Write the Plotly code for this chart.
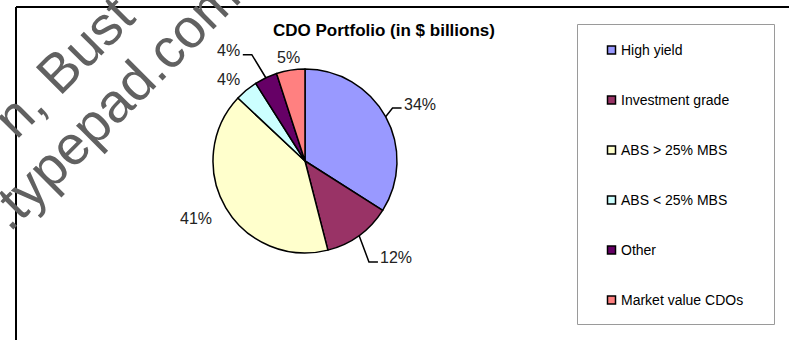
import math
import plotly.graph_objects as go

# ---- data ----
categories = ["High yield", "Investment grade", "ABS > 25% MBS",
              "ABS < 25% MBS", "Other", "Market value CDOs"]
shares = [34, 12, 41, 4, 4, 5]          # percent of portfolio
pct_labels = ["34%", "12%", "41%", "4%", "4%", "5%"]

# ---- style / layout ----
colors = ["#9999FF", "#993366", "#FFFFCC", "#CCFFFF", "#660066", "#FF8080"]
W, H = 789, 340
CX, CY, R = 305, 161, 92                 # pie centre / radius in pixels
FONT = "Liberation Sans, Arial, sans-serif"
# label placement (pixel distance from centre, angular tweak in degrees)
label_dist = [128, 133, 123, 112, 134, 105]
label_turn = [2.4, -7.2, 2.6, -3.4, -9.4, -0.3]
label_leader = [True, True, False, False, True, False]


def px(x):
    return x / W


def py(y):
    return 1 - y / H


fig = go.Figure()
fig.add_trace(go.Pie(
    values=shares, labels=categories, sort=False, direction="clockwise",
    rotation=0, textinfo="none", hoverinfo="skip", showlegend=False,
    marker=dict(colors=colors, line=dict(color="black", width=1.5)),
    domain=dict(x=[px(CX - R), px(CX + R)], y=[py(CY + R), py(CY - R)]),
))

shapes = []
annotations = []

# outer chart frame (cut off at right / bottom)
shapes.append(dict(type="line", xref="paper", yref="paper",
                   x0=px(16), x1=1.05, y0=py(7), y1=py(7),
                   line=dict(color="black", width=2)))
shapes.append(dict(type="line", xref="paper", yref="paper",
                   x0=px(16), x1=px(16), y0=py(7), y1=-0.05,
                   line=dict(color="black", width=2)))

# percentage labels and leader lines
total = sum(shares)
cum = 0
for i, v in enumerate(shares):
    mid = (cum + v / 2) / total * 360
    cum += v
    th = math.radians(mid + label_turn[i])
    lx = CX + label_dist[i] * math.sin(th)
    ly = CY - label_dist[i] * math.cos(th)
    annotations.append(dict(x=px(lx), y=py(ly), xref="paper", yref="paper",
                            text=pct_labels[i], showarrow=False,
                            xanchor="center", yanchor="middle",
                            font=dict(family=FONT, size=16, color="#222222")))
    if label_leader[i]:
        tm = math.radians(mid)
        sx = CX + R * math.sin(tm)
        sy = CY - R * math.cos(tm)
        half = 4.2 * len(pct_labels[i]) + 3.5
        side = 1 if lx > CX else -1
        ex = lx - side * (half + 2)
        ey = ly + 4
        bx = ex - side * 9
        path = f"M {px(sx)} {py(sy)} L {px(bx)} {py(ey)} L {px(ex)} {py(ey)}"
        shapes.append(dict(type="path", xref="paper", yref="paper", path=path,
                           line=dict(color="black", width=1.5)))

# title
annotations.append(dict(x=px(383.5), y=py(30), xref="paper", yref="paper",
                        text="<b>CDO Portfolio (in $ billions)</b>", showarrow=False,
                        xanchor="center", yanchor="middle",
                        font=dict(family=FONT, size=17, color="black")))

# legend box
shapes.append(dict(type="rect", xref="paper", yref="paper",
                   x0=px(577.5), x1=px(774.5), y0=py(324.5), y1=py(24.5),
                   line=dict(color="#9a9a9a", width=1), fillcolor="white", layer="below"))
for i, name in enumerate(categories):
    yc = 50 + 50 * i
    shapes.append(dict(type="rect", xref="paper", yref="paper",
                       x0=px(607.5), x1=px(615.5), y0=py(yc + 4), y1=py(yc - 4),
                       fillcolor=colors[i], line=dict(color="black", width=1.5)))
    annotations.append(dict(x=px(618.5), y=py(yc), xref="paper", yref="paper",
                            text=name, showarrow=False, xanchor="left", yanchor="middle",
                            font=dict(family=FONT, size=14, color="black")))

# watermark (partly outside the page, as in the original image)
wm_color = "#616161"
annotations.append(dict(x=px(63), y=py(67), xref="paper", yref="paper",
                        text="n, Bust", showarrow=False, textangle=-45,
                        xanchor="center", yanchor="middle",
                        font=dict(family=FONT, size=55, color=wm_color)))
annotations.append(dict(x=px(113), y=py(103), xref="paper", yref="paper",
                        text=".typepad.com", showarrow=False, textangle=-45,
                        xanchor="center", yanchor="middle",
                        font=dict(family=FONT, size=55, color=wm_color)))

fig.update_layout(
    width=W, height=H, margin=dict(l=0, r=0, t=0, b=0),
    paper_bgcolor="white", plot_bgcolor="white",
    shapes=shapes, annotations=annotations, showlegend=False,
)

fig.write_html("out.html", config={"displayModeBar": False})
